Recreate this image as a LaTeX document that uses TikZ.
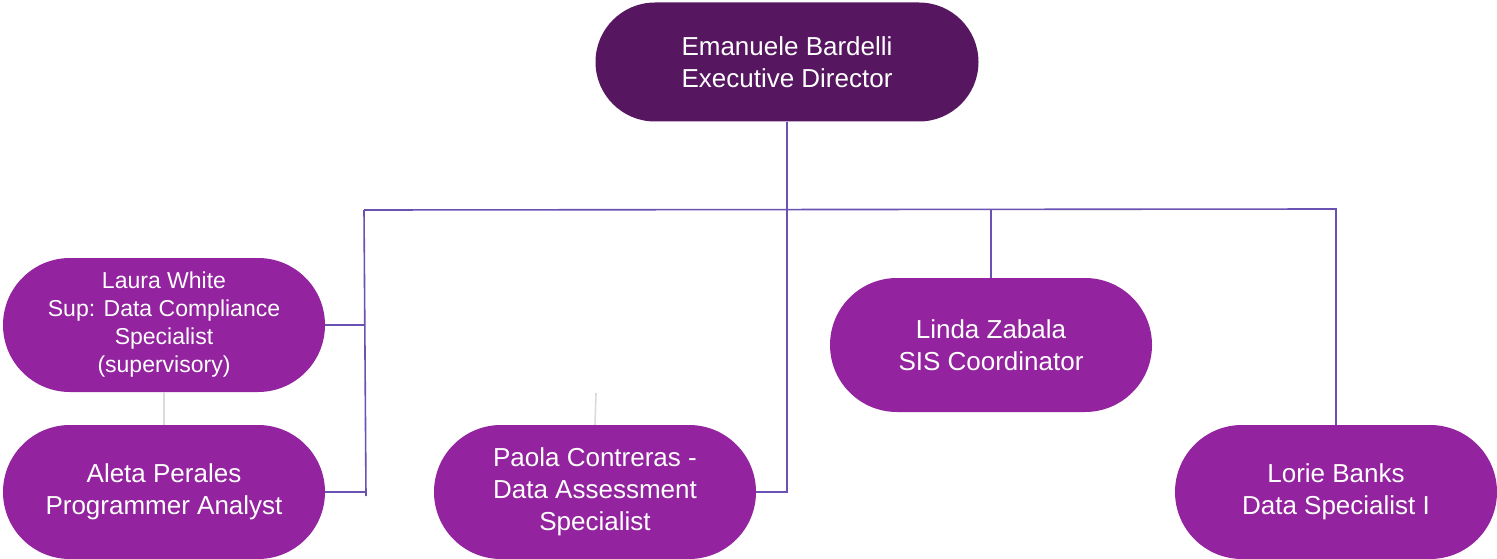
\documentclass[tikz,border=0pt]{standalone}
\usepackage{fontspec}
\setmainfont{Liberation Sans}
\usepackage{tikz}
\usetikzlibrary{positioning,calc}
\definecolor{bossfill}{HTML}{561760}
\definecolor{staffill}{HTML}{93239F}
\definecolor{linkcol}{HTML}{6A52B2}
\definecolor{stubcol}{HTML}{DADADA}
\tikzset{
    person/.style = {draw=none, fill=staffill, text=white, align=center,
                     minimum width=322pt, minimum height=134pt, rounded corners=67pt,
                     font=\fontsize{26}{32}\selectfont},
    boss/.style   = {person, fill=bossfill, minimum width=383pt, minimum height=119pt,
                     rounded corners=59.5pt},
    link/.style   = {draw=linkcol, line width=1.6pt},
    stub/.style   = {draw=stubcol, line width=1.6pt}
}

\begin{document}
\begin{tikzpicture}[x=1pt, y=-1pt]
            \useasboundingbox (0,0) rectangle (1497,559);

            % people
            \node[boss]   (bardelli)  at (787,62)   {Emanuele Bardelli\\Executive Director};
            \node[person, font=\fontsize{23}{28}\selectfont]
                          (white)     at (164,325)  {Laura White\\Sup: Data Compliance\\Specialist\\(supervisory)};
            \node[person] (perales)   at (164,492)  {Aleta Perales\\Programmer Analyst};
            \node[person] (contreras) at (595,492)  {Paola Contreras -\\Data Assessment\\Specialist};
            \node[person] (zabala)    at (991,345)  {Linda Zabala\\SIS Coordinator};
            \node[person] (banks)     at (1336,492) {Lorie Banks\\Data Specialist I};

            % bus
            \coordinate (busL)  at (364,210);
            \coordinate (busR)  at (1336,209);
            \coordinate (brack) at (366,496);
            \coordinate (pstub) at (596,393);

            \draw[link] (busL) -- (busR) -- (banks.north);
            \draw[link] (bardelli.south) -- (bardelli.south |- contreras.east) -- (contreras.east);
            \draw[link] (zabala.north) -- (zabala.north |- busR);
            \draw[link] (busL) -- (brack);
            \draw[link] (white.east) -- (white.east -| busL);
            \draw[link] (perales.east) -- (perales.east -| brack);

            \draw[stub] (white.south) -- (perales.north);
            \draw[stub] (contreras.north) -- (pstub);
        \end{tikzpicture}
\end{document}
